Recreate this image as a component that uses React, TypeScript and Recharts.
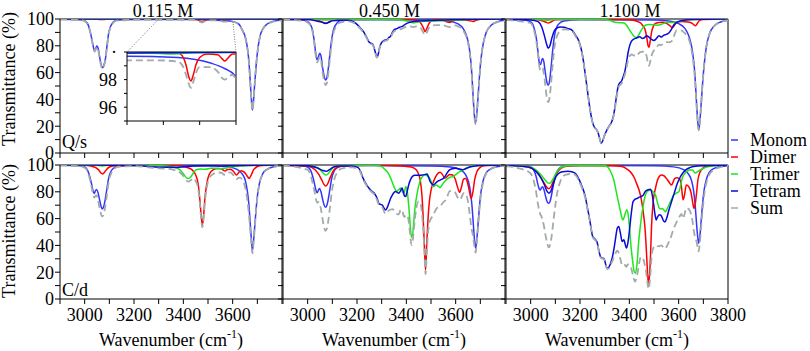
import React from 'react';
import { LineChart, Line, XAxis, YAxis, ReferenceLine } from 'recharts';

type Pt = [number, number];

// ---------- spectra: [wavenumber (cm-1), transmittance (%)] ----------

// Q/s, 0.115 M
const qs115Monom: Pt[] = [[2900,99.8],[2980,99.5],[3000,98.8],[3012,96.5],[3022,91],[3030,84],[3036,78.5],[3040,76.2],[3044,77.5],[3049,79.8],[3054,78.5],[3060,72.5],[3066,66.5],[3072,63.6],[3078,65.5],[3084,70],[3090,79],[3097,89],[3105,94.5],[3115,97.5],[3131,99.2],[3200,99.6],[3300,99.7],[3440,99.6],[3530,99.2],[3565,98.85],[3600,98.2],[3625,96.2],[3640,91.5],[3652,86],[3660,78],[3666,68],[3671,54],[3676,40],[3680,32],[3684,38],[3689,51],[3695,65],[3701,76],[3710,86.5],[3722,92.5],[3740,96.3],[3765,98.3],[3800,99.2]];
const qs115Dimer: Pt[] = [[2900,100],[3040,99.9],[3060,99.7],[3072,99.6],[3085,99.8],[3110,100],[3300,99.95],[3440,99.92],[3455,99.6],[3463,99],[3470,98.2],[3476,97.9],[3482,98.3],[3490,99.1],[3500,99.6],[3520,99.85],[3550,99.8],[3562,99.5],[3569,99.35],[3576,99.5],[3590,99.85],[3620,99.9],[3660,99.85],[3670,99.8],[3690,99.95],[3800,100]];
const qs115Trimer: Pt[] = [[2900,100],[3060,99.95],[3075,99.9],[3090,99.95],[3300,99.95],[3390,99.9],[3420,99.85],[3445,99.88],[3480,99.95],[3800,100]];
const qs115Tetram: Pt[] = [[2900,100],[3200,99.97],[3300,99.93],[3400,99.95],[3600,99.98],[3800,100]];
const qs115Sum: Pt[] = [[2900,99.6],[2980,99.2],[3000,98.4],[3012,96],[3022,90.5],[3030,83.4],[3036,77.9],[3040,75.6],[3044,76.8],[3049,79],[3054,77.7],[3060,71.7],[3066,65.7],[3072,62.8],[3078,64.8],[3084,69.3],[3090,78.4],[3097,88.5],[3105,94],[3115,97],[3131,98.8],[3200,99.3],[3300,99.4],[3380,99.4],[3440,99.3],[3455,98.9],[3463,98.3],[3470,97.7],[3476,97.4],[3482,97.8],[3490,98.5],[3500,98.9],[3530,98.9],[3555,98.4],[3562,98.1],[3569,98],[3576,98.1],[3590,98.35],[3600,98.05],[3625,95.9],[3640,91.2],[3652,85.6],[3660,77.6],[3666,67.6],[3671,53.7],[3676,39.7],[3680,31.7],[3684,37.7],[3689,50.7],[3695,64.7],[3701,75.7],[3710,86.1],[3722,92.2],[3740,96],[3765,98],[3800,98.9]];

// C/d, 0.115 M
const cd115Monom: Pt[] = [[2900,99.8],[2980,99.4],[3000,98.5],[3012,96],[3022,90.5],[3030,84],[3035,80],[3039,78.8],[3043,80.5],[3048,81.8],[3054,79.5],[3060,74.5],[3066,69.5],[3071,67.2],[3077,68.8],[3083,74],[3090,82],[3097,90],[3106,95],[3118,97.8],[3135,99.2],[3200,99.6],[3300,99.6],[3500,99.4],[3580,98.6],[3620,96.5],[3640,93],[3652,88],[3660,80],[3666,70],[3671,57],[3676,44],[3680,36.1],[3684,42],[3689,53],[3695,67],[3701,78],[3710,87.5],[3722,93.5],[3740,96.8],[3765,98.6],[3800,99.4]];
const cd115Dimer: Pt[] = [[2900,100],[3000,99.8],[3020,99.4],[3045,98],[3058,96],[3066,94],[3072,93.3],[3078,94],[3088,96.5],[3100,98.5],[3120,99.5],[3200,99.9],[3380,99.6],[3410,98.5],[3435,96.5],[3450,92.5],[3460,86],[3467,74],[3472,63],[3477,55.2],[3482,62],[3488,76],[3495,86],[3505,93],[3520,96.3],[3540,97.4],[3555,97.2],[3563,96],[3570,95.5],[3577,96.5],[3590,96.8],[3602,95.5],[3610,93.5],[3616,92.5],[3623,94],[3635,95.8],[3648,94.5],[3658,92],[3667,90],[3675,92.5],[3685,96.5],[3700,98.8],[3720,99.7],[3800,100]];
const cd115Trimer: Pt[] = [[2900,100],[3040,99.8],[3072,99.3],[3100,99.8],[3300,99.5],[3360,98.5],[3385,96.5],[3400,93.5],[3412,90.5],[3420,89.9],[3430,91],[3440,94],[3452,96.5],[3470,97],[3490,96.8],[3510,97.5],[3530,97.6],[3550,97.2],[3570,97.5],[3590,98.5],[3620,99.3],[3660,99.6],[3700,99.9],[3800,100]];
const cd115Tetram: Pt[] = [[2900,100],[3200,99.7],[3260,98.8],[3300,98.4],[3340,98.3],[3370,98.2],[3400,98.5],[3440,99.2],[3500,99.5],[3550,99.3],[3600,99.5],[3700,99.9],[3800,100]];
const cd115Sum: Pt[] = [[2900,99.6],[2980,99.1],[3000,98],[3012,95.2],[3022,88.8],[3030,81.8],[3035,77.3],[3039,75.7],[3043,76.8],[3048,77.3],[3054,74.1],[3060,68.4],[3066,63.6],[3071,61.6],[3077,63],[3083,68.6],[3090,77.5],[3097,87],[3106,93.2],[3118,96.8],[3135,98.7],[3200,99.2],[3260,98.2],[3300,97.5],[3340,97.2],[3360,96.4],[3385,94.6],[3400,91.8],[3412,88.5],[3420,87.6],[3430,88.6],[3440,90.2],[3450,88],[3460,83],[3467,71.3],[3472,60.7],[3477,53.5],[3482,59.9],[3488,73.6],[3495,83.3],[3505,90.3],[3520,93.2],[3540,94.4],[3555,94.2],[3563,93],[3570,92.6],[3577,93.6],[3590,94.5],[3602,92.6],[3610,90.4],[3616,89.4],[3623,90.4],[3630,90.6],[3640,88.5],[3648,85],[3652,82.3],[3660,73.2],[3666,63.1],[3671,51.9],[3676,40.9],[3680,34.1],[3684,40.3],[3689,51.6],[3695,66],[3701,77.3],[3710,87.2],[3722,93.3],[3740,96.7],[3765,98.6],[3800,99.4]];

// Q/s, 0.450 M
const qs450Monom: Pt[] = [[2900,99.6],[2980,99.2],[3000,98],[3012,95.5],[3020,91.5],[3027,83],[3033,74],[3038,69.5],[3043,71.5],[3049,74.5],[3054,72.5],[3060,64.5],[3066,58],[3072,54.5],[3077,55.5],[3083,62],[3089,71.5],[3096,83],[3104,91.5],[3115,96],[3130,98.6],[3200,99.5],[3500,99.3],[3570,98.5],[3610,96.3],[3632,92.5],[3648,85],[3657,76],[3664,63],[3670,45],[3675,30],[3680,22.2],[3685,28],[3690,40],[3696,56],[3702,69],[3712,82],[3725,90.5],[3745,95.5],[3770,98],[3800,99]];
const qs450Dimer: Pt[] = [[2900,100],[3020,99.6],[3050,98.5],[3065,97.2],[3073,96.6],[3082,97.4],[3095,98.8],[3120,99.7],[3300,99.9],[3420,99.6],[3450,98.5],[3462,96],[3470,93],[3476,90.6],[3482,92.5],[3490,96],[3500,98.5],[3520,99.4],[3550,99],[3565,97.8],[3575,97.4],[3585,98.2],[3600,99.2],[3640,99.3],[3660,98.6],[3670,98.2],[3680,98.8],[3700,99.8],[3800,100]];
const qs450Trimer: Pt[] = [[2900,100],[3040,99.6],[3073,99.2],[3100,99.7],[3300,99.7],[3370,99.4],[3400,98.5],[3420,97.5],[3430,97],[3440,97.5],[3460,98.2],[3490,98.3],[3520,98.6],[3560,98.8],[3600,99.3],[3650,99.6],[3700,99.9],[3800,100]];
const qs450Tetram: Pt[] = [[2900,99.9],[3000,99.7],[3040,98.4],[3060,97.5],[3073,96.8],[3085,97.5],[3100,98.6],[3130,99],[3160,99],[3185,98],[3200,96],[3215,93],[3230,89.5],[3240,86],[3248,83],[3256,82],[3263,81.5],[3270,78],[3276,74],[3280,71.8],[3285,73],[3292,79],[3300,82.5],[3310,84],[3320,84.5],[3328,86],[3336,87],[3345,90.5],[3352,92.3],[3362,92.8],[3372,93.8],[3383,94.5],[3395,96],[3410,97.3],[3430,98.2],[3460,98.6],[3500,98.9],[3560,99.3],[3620,99.7],[3800,100]];
const qs450Sum: Pt[] = [[2900,99.4],[2980,98.7],[3000,97.4],[3012,94.8],[3020,90.2],[3027,81.5],[3033,72.5],[3038,67.6],[3043,69.2],[3049,71.6],[3054,69.4],[3060,61.1],[3066,54.5],[3072,50.6],[3077,51.7],[3083,58.6],[3089,68.4],[3096,80.4],[3104,89.2],[3115,94.4],[3130,97.2],[3160,98.2],[3185,97.3],[3200,95.4],[3215,92.4],[3230,88.9],[3240,85.4],[3248,82.4],[3256,81.4],[3263,80.9],[3270,77.4],[3276,73.4],[3280,71.2],[3285,72.4],[3292,78.4],[3300,81.9],[3310,83.4],[3320,83.9],[3328,85.3],[3336,86.2],[3345,89.5],[3352,91],[3362,91.5],[3372,92.2],[3383,92.8],[3395,94],[3410,94.6],[3420,94.3],[3430,94],[3440,94.5],[3455,94],[3463,92],[3470,89.5],[3476,88],[3482,89.5],[3490,92.8],[3500,95],[3520,95.5],[3550,95.3],[3565,94.4],[3575,94],[3585,94.8],[3600,95.2],[3610,94.5],[3632,91],[3648,83.8],[3657,74.5],[3664,61.5],[3670,43.8],[3675,29.3],[3680,21.6],[3685,27.5],[3690,39.4],[3696,55.5],[3702,68.5],[3712,81.6],[3725,90.2],[3745,95.3],[3770,97.8],[3800,98.9]];

// C/d, 0.450 M
const cd450Monom: Pt[] = [[2900,99.8],[2980,99.4],[3000,98.4],[3012,96],[3022,90.5],[3030,84],[3035,80.3],[3039,79.3],[3043,81],[3048,82.5],[3054,80],[3060,75],[3066,70.5],[3072,68.4],[3078,70],[3084,75],[3091,83],[3098,90.5],[3107,95.3],[3120,98],[3140,99.3],[3200,99.6],[3500,99.3],[3580,98.5],[3620,96.3],[3640,92.8],[3652,87.5],[3660,80],[3666,70],[3671,57.5],[3676,45],[3681,37.8],[3685,43],[3690,54],[3696,68],[3702,79],[3711,88],[3723,94],[3741,97],[3766,98.7],[3800,99.4]];
const cd450Dimer: Pt[] = [[2900,99.9],[3000,99],[3030,96.5],[3045,93],[3058,88.5],[3066,85.5],[3073,84.3],[3080,85.5],[3090,90],[3102,95],[3120,98.3],[3150,99.5],[3250,99.8],[3380,99.3],[3420,98.5],[3441,96.3],[3450,93],[3457,88],[3463,78],[3468,62],[3473,40],[3478,21.6],[3483,42],[3488,60],[3493,72],[3500,81],[3508,86.5],[3518,91],[3528,93.8],[3537,94.5],[3546,93],[3556,90.3],[3566,91.5],[3576,93],[3588,92.5],[3598,89.5],[3607,84],[3616,79.5],[3624,84],[3632,89.5],[3640,90],[3648,87],[3656,80],[3663,75],[3670,80],[3677,89],[3686,95],[3698,98],[3715,99.4],[3800,100]];
const cd450Trimer: Pt[] = [[2900,100],[3000,99.6],[3040,98],[3058,95],[3068,93],[3075,92.5],[3083,93.5],[3095,96.5],[3110,98.8],[3140,99.7],[3280,99.7],[3300,98.8],[3312,96.8],[3327,93.8],[3337,90],[3347,85.1],[3355,81.8],[3361,80.3],[3368,81.5],[3377,82.8],[3383,80.5],[3388,79],[3393,80.5],[3398,84],[3404,80],[3410,69],[3415,57],[3421,46.1],[3426,49],[3430,57.5],[3435,67.6],[3444,79],[3455,87.6],[3465,91.3],[3475,92.5],[3485,92],[3495,90],[3502,87],[3509,83.8],[3515,84.5],[3522,85],[3529,84.2],[3536,83.1],[3543,84.5],[3549,86.3],[3559,88.5],[3569,90],[3580,91],[3589,91.3],[3600,92.8],[3615,94.8],[3630,96.3],[3645,97.8],[3657,98.8],[3680,99.5],[3720,99.9],[3800,100]];
const cd450Tetram: Pt[] = [[2900,99.9],[3000,99.5],[3040,97.8],[3060,96],[3075,95.3],[3088,96.5],[3105,98.5],[3130,99.2],[3180,99.3],[3205,98],[3215,95],[3225,90],[3235,86.5],[3248,82.8],[3261,80.3],[3268,79.5],[3275,77.6],[3282,75],[3288,71.4],[3295,70.6],[3302,70.2],[3309,68],[3316,66.4],[3322,68],[3329,71.4],[3336,75],[3343,77.6],[3350,79.5],[3356,80.3],[3363,79.5],[3370,79],[3377,81],[3383,82.8],[3388,80],[3392,77],[3397,76.4],[3403,80],[3410,85.5],[3417,89.1],[3425,91.5],[3435,92.3],[3450,92.3],[3465,92.5],[3477,93],[3484,93.3],[3490,91],[3497,87.5],[3503,86],[3509,85.1],[3516,86],[3525,87.6],[3535,88.5],[3545,89.5],[3552,90.3],[3562,93],[3572,95.8],[3583,97],[3600,97.5],[3615,97],[3628,96.5],[3640,97.2],[3655,98.3],[3680,99.3],[3720,99.8],[3800,100]];
const cd450Sum: Pt[] = [[2900,99.6],[3000,96.5],[3012,92.2],[3022,85.2],[3030,78.3],[3035,73.5],[3039,71.8],[3043,72.4],[3048,71.6],[3054,66.8],[3060,60.2],[3066,54],[3072,50.9],[3078,52.6],[3084,58.9],[3091,69.4],[3098,80.1],[3107,88.6],[3120,94.6],[3140,97.5],[3180,98.3],[3205,97.1],[3215,94.2],[3225,89.2],[3235,85.8],[3248,82.1],[3261,79.6],[3275,76.9],[3288,70.6],[3302,68.6],[3316,63.6],[3329,66],[3343,67],[3356,64.7],[3363,63.4],[3370,63.2],[3377,66.6],[3383,66.3],[3388,62.8],[3392,61.2],[3397,62.5],[3404,62.5],[3410,57.5],[3415,49],[3421,40.3],[3426,43.5],[3430,51],[3435,60],[3441,68.2],[3450,72.8],[3457,71.5],[3463,65],[3468,53],[3473,36],[3478,18.6],[3483,35],[3488,49.5],[3493,57],[3500,60],[3509,62.5],[3522,67.5],[3536,69],[3549,72],[3562,74.5],[3576,80.5],[3589,80.5],[3600,79],[3607,76],[3616,74],[3624,76],[3632,79],[3640,78.5],[3648,74.5],[3656,64.7],[3663,54.2],[3670,47.2],[3676,39.5],[3681,34.5],[3685,40.7],[3690,51.8],[3696,66],[3702,77.2],[3711,86.7],[3723,93.3],[3741,96.7],[3766,98.6],[3800,99.4]];

// Q/s, 1.100 M
const qs1100Monom: Pt[] = [[2900,99.5],[2980,99],[3000,97.8],[3010,95.5],[3017,91],[3023,85.6],[3030,75],[3036,66.5],[3040,66],[3044,68.5],[3048,70.6],[3053,68.5],[3059,60.5],[3065,53.5],[3071,50.7],[3076,53],[3082,62.5],[3089,76],[3097,88],[3106,94],[3117,96.8],[3135,98.5],[3200,99.4],[3500,99.2],[3560,98.5],[3600,96.5],[3625,93],[3642,87],[3653,79],[3660,70],[3666,58],[3671,42],[3676,27],[3681,17.2],[3686,24],[3691,36],[3697,52],[3703,65],[3712,79],[3725,89],[3745,95],[3770,97.8],[3800,99]];
const qs1100Dimer: Pt[] = [[2900,100],[3030,99.5],[3060,97.8],[3071,97],[3082,97.8],[3100,99.4],[3200,99.9],[3400,99.5],[3442,97.5],[3455,95],[3463,92.5],[3470,87],[3476,80.1],[3480,79],[3485,84],[3490,90],[3497,94.5],[3503,96.3],[3520,97.3],[3537,97.5],[3550,96.8],[3564,95],[3575,93.5],[3584,95.5],[3591,97.5],[3610,98.2],[3638,97.8],[3655,96.8],[3663,95.5],[3669,95],[3675,96.5],[3685,99],[3700,99.7],[3800,100]];
const qs1100Trimer: Pt[] = [[2900,100],[3040,99.6],[3071,99],[3100,99.7],[3300,99.7],[3319,99],[3335,98],[3350,97.3],[3365,97.2],[3379,97],[3390,95],[3400,92],[3407,90],[3413,88.5],[3420,87],[3428,86.1],[3436,87.5],[3445,90.5],[3453,93],[3467,95.5],[3480,95.9],[3494,95.8],[3508,95.4],[3521,95.5],[3535,96.4],[3548,97.3],[3562,97.5],[3575,97.4],[3590,97.8],[3605,98.4],[3625,99.1],[3650,99.6],[3700,99.9],[3800,100]];
const qs1100Tetram: Pt[] = [[2900,99.8],[3000,99.3],[3030,98],[3045,94],[3055,88],[3065,81],[3071,78.1],[3078,80],[3087,86.5],[3097,91.5],[3108,93.5],[3120,94],[3135,93.8],[3150,93],[3165,92],[3175,90],[3183,87.5],[3192,85],[3200,81],[3208,75],[3216,66],[3224,55],[3232,44],[3240,33.5],[3247,26],[3254,21],[3260,18.8],[3267,17.5],[3274,14.7],[3280,10.5],[3286,7.2],[3292,9],[3298,12.5],[3305,15.5],[3313,18.5],[3321,20.9],[3329,23.5],[3336,28],[3343,36],[3350,45],[3356,50.5],[3362,52.5],[3368,53.5],[3375,57],[3382,61],[3388,67],[3395,75],[3402,80.5],[3409,83.5],[3418,85],[3429,85.8],[3442,86.8],[3452,85.5],[3461,86],[3470,87.5],[3480,86.5],[3490,84.8],[3500,84],[3510,85.5],[3520,87.5],[3530,86.5],[3540,88],[3550,88.5],[3560,89.5],[3570,92],[3580,95.5],[3592,97.5],[3610,98.7],[3640,99.4],[3700,99.8],[3800,100]];
const qs1100Sum: Pt[] = [[2900,99.3],[3000,96.9],[3010,93.8],[3017,89],[3023,83.2],[3030,73],[3036,63.5],[3040,61.8],[3044,63.3],[3048,63.6],[3053,59.8],[3059,51.1],[3065,41.8],[3071,38],[3076,40.6],[3082,50.4],[3089,65.5],[3097,79.6],[3106,87],[3117,90.6],[3135,92.2],[3150,92],[3165,91.2],[3175,89.3],[3183,86.8],[3192,84.4],[3200,80.4],[3208,74.5],[3216,65.5],[3224,54.6],[3232,43.7],[3240,33.3],[3247,25.8],[3254,20.8],[3260,18.6],[3267,17.4],[3274,14.6],[3280,10.4],[3286,7.1],[3292,8.9],[3298,12.4],[3305,15.4],[3313,18.3],[3321,20.6],[3329,23],[3336,27.3],[3343,34.8],[3350,43.5],[3356,48.8],[3362,50.7],[3368,51.7],[3375,55],[3382,58.5],[3388,63.2],[3395,69.3],[3402,72.6],[3409,73.5],[3418,72.9],[3429,72.2],[3442,75.1],[3452,75.5],[3461,75.8],[3470,72.3],[3476,66.4],[3480,65.1],[3485,68.5],[3490,72.6],[3497,75.8],[3503,77.1],[3510,78.5],[3520,80.9],[3530,80.5],[3540,82.3],[3550,82.8],[3560,82.6],[3570,83.2],[3575,84.3],[3580,86.8],[3592,91.4],[3600,91.2],[3610,91.5],[3625,89.4],[3640,85.6],[3653,76],[3660,66.6],[3666,54.8],[3671,39.8],[3676,25.9],[3681,16.9],[3686,23.7],[3691,35.8],[3697,51.8],[3703,64.8],[3712,78.8],[3725,88.9],[3745,94.9],[3770,97.7],[3800,99]];

// C/d, 1.100 M
const cd1100Monom: Pt[] = [[2900,99.8],[2980,99.4],[3000,98.5],[3012,96.3],[3022,91.5],[3030,85],[3035,82],[3039,81.3],[3043,82.8],[3048,83.8],[3054,81.5],[3060,77],[3066,73],[3073,71.4],[3079,73],[3085,78],[3092,85],[3099,91.5],[3108,95.5],[3120,98],[3140,99.3],[3200,99.6],[3500,99.4],[3580,98.6],[3620,96.5],[3640,93.2],[3652,88.5],[3660,81.5],[3666,72],[3671,60],[3676,48.5],[3681,41.6],[3686,47],[3691,58],[3697,71],[3703,81],[3712,89],[3724,94.5],[3742,97.3],[3766,98.8],[3800,99.5]];
const cd1100Dimer: Pt[] = [[2900,99.8],[2990,98.5],[3020,95.5],[3040,91],[3055,86.5],[3065,83.5],[3073,82.3],[3081,83.5],[3092,88],[3105,93.5],[3120,97],[3145,99],[3200,99.7],[3330,99.5],[3370,98.8],[3390,97],[3409,93.8],[3420,90.5],[3429,86.3],[3440,81],[3449,74],[3457,64],[3463,54],[3468,40],[3473,22],[3478,10.5],[3482,18],[3486,33],[3490,54],[3496,71.4],[3506,82.6],[3517,90],[3530,92.5],[3540,92],[3550,90],[3560,87.5],[3571,85],[3578,87.5],[3584,90],[3594,90.5],[3604,89.5],[3611,84],[3618,74],[3624,78],[3631,85],[3641,83.8],[3650,79.5],[3657,72],[3662,67.6],[3668,72],[3673,80],[3678,88.8],[3685,94],[3692,96.3],[3705,98.8],[3720,99.7],[3800,100]];
const cd1100Trimer: Pt[] = [[2900,99.9],[2990,98.8],[3020,96.5],[3040,93],[3058,89],[3068,86.8],[3075,86.3],[3083,87.2],[3095,91],[3108,95.5],[3125,98.3],[3150,99.5],[3300,99.5],[3310,98.8],[3320,96.5],[3328,93.5],[3337,88.8],[3345,82],[3352,75.5],[3357,71.4],[3364,65.5],[3370,60.5],[3374,59],[3379,61],[3384,64.1],[3390,66.6],[3396,62],[3402,50],[3408,37],[3414,27.5],[3419,21],[3425,19.2],[3431,26],[3438,42.8],[3445,55],[3452,65.1],[3459,72.5],[3465,77.6],[3476,80.8],[3486,81.3],[3496,80],[3506,77.6],[3514,72],[3522,67.6],[3528,67.2],[3533,67.6],[3540,66.5],[3546,65.1],[3553,67],[3560,70],[3570,74],[3580,77.6],[3590,79],[3601,80],[3608,85],[3614,89.9],[3624,93.5],[3634,95.3],[3645,96.3],[3655,96.3],[3662,95],[3668,94],[3675,94.8],[3688,96.3],[3705,98],[3722,98.8],[3750,99.6],[3800,100]];
const cd1100Tetram: Pt[] = [[2900,99.6],[2990,98.5],[3020,95.5],[3040,91],[3055,85.5],[3066,80.5],[3074,79],[3082,80.5],[3092,86],[3103,91.5],[3115,94],[3130,95],[3150,95.3],[3170,94.8],[3185,93],[3198,88.5],[3208,84],[3216,80],[3222,76],[3230,68],[3237,61.6],[3244,54],[3250,47.5],[3256,45.5],[3263,44.2],[3270,42],[3276,36.5],[3283,31.7],[3290,30.5],[3297,30.2],[3304,26],[3310,22.9],[3316,23.5],[3324,26.7],[3331,31],[3337,36.6],[3344,45],[3351,52.8],[3357,54.1],[3364,49],[3371,42.9],[3378,44.2],[3383,41],[3388,38],[3394,41.7],[3401,52],[3408,64],[3415,72.6],[3423,74.5],[3432,75.1],[3440,76],[3447,76.4],[3456,77.5],[3466,80.6],[3476,81.5],[3486,81.9],[3493,77.5],[3499,70],[3505,62],[3509,59],[3515,61.5],[3522,62.9],[3530,62],[3538,58.5],[3544,57.5],[3551,60],[3560,66],[3570,72],[3582,79],[3594,86],[3605,90.5],[3617,94],[3630,96.5],[3645,98],[3660,98.8],[3700,99.5],[3800,99.9]];
const cd1100Sum: Pt[] = [[2900,99.1],[2990,95.1],[3000,93.7],[3012,88.5],[3022,80],[3030,70.4],[3035,65.7],[3039,63.2],[3043,61.8],[3048,59.1],[3054,54.3],[3060,47.8],[3066,42.5],[3073,38.5],[3079,40.5],[3085,47],[3092,57.8],[3099,68.6],[3108,79.6],[3120,87.6],[3140,92.6],[3170,93.4],[3185,91.8],[3198,87.3],[3208,82.9],[3216,79],[3222,75],[3230,67.1],[3237,60.8],[3244,53.3],[3250,46.9],[3256,44.9],[3263,43.6],[3270,41.5],[3276,36],[3283,31.3],[3290,30.1],[3297,29.8],[3304,25.5],[3310,22.4],[3316,22.7],[3324,25.3],[3331,28.3],[3337,31],[3344,34],[3351,36],[3357,34.5],[3364,29.5],[3371,25.2],[3378,26],[3383,25.2],[3388,24],[3394,25.8],[3401,25.8],[3408,22.8],[3415,17.6],[3423,12.9],[3432,18.1],[3440,27],[3447,31.5],[3456,30],[3463,25],[3468,20.5],[3473,13],[3478,7.5],[3482,11.5],[3486,20.5],[3490,31],[3496,37.5],[3502,39],[3509,38.2],[3515,39.3],[3522,39.5],[3530,40],[3538,38.5],[3544,37.5],[3551,39],[3560,42.5],[3570,47],[3578,51.5],[3587,55.5],[3597,59.5],[3605,62],[3611,63.5],[3618,60],[3624,63.5],[3631,68],[3641,67],[3650,63.5],[3657,57],[3662,50],[3668,45.5],[3673,42.5],[3678,37.5],[3681,35.5],[3686,42],[3692,56],[3697,66.3],[3705,79.8],[3712,86.4],[3724,92.8],[3742,96.2],[3766,98.2],[3800,99.3]];

// ---------- labels ----------
const concentrations = ['0.115 M', '0.450 M', '1.100 M'];
const solvents = ['Q/s', 'C/d'];
const seriesNames = ['Monom', 'Dimer', 'Trimer', 'Tetram', 'Sum'];
const X_TICKS = [2900, 3000, 3100, 3200, 3300, 3400, 3500, 3600, 3700, 3800];
const Y_TICKS = [0, 10, 20, 30, 40, 50, 60, 70, 80, 90, 100];
const X_LABELS_INNER = [3000, 3200, 3400, 3600];
const X_LABELS_LAST = [3000, 3200, 3400, 3600, 3800];
const INSET_X_TICKS = [3300, 3400, 3500, 3600];
const INSET_Y_TICKS = [95, 96, 97, 98, 99, 100];

// ---------- styling / layout ----------
const FONT = '"Liberation Serif", "Times New Roman", Times, serif';
const STYLES = [
  { color: '#3434ff', dash: undefined, width: 1.5 },
  { color: '#ff0000', dash: undefined, width: 1.5 },
  { color: '#1ee61e', dash: undefined, width: 1.5 },
  { color: '#0a0ad8', dash: undefined, width: 1.5 },
  { color: '#a2aaaa', dash: '7 4', width: 1.8 },
];

const PLOT_W = 222;
const PLOT_H = 134;
const COL_X = [60, 283, 506];
const ROW_Y = [19, 165];
const PAD_L = 48;
const PAD_R = 24;
const PAD_T = 12;
const PAD_B = 36;
const INSET = { x: 127, y: 52, w: 109, h: 69 };

type Row = { w: number; t: number };
const rows = (pts: Pt[]): Row[] => pts.map(([w, t]) => ({ w, t }));

const panels: Row[][][][] = [
  [
    [qs115Monom, qs115Dimer, qs115Trimer, qs115Tetram, qs115Sum].map(rows),
    [qs450Monom, qs450Dimer, qs450Trimer, qs450Tetram, qs450Sum].map(rows),
    [qs1100Monom, qs1100Dimer, qs1100Trimer, qs1100Tetram, qs1100Sum].map(rows),
  ],
  [
    [cd115Monom, cd115Dimer, cd115Trimer, cd115Tetram, cd115Sum].map(rows),
    [cd450Monom, cd450Dimer, cd450Trimer, cd450Tetram, cd450Sum].map(rows),
    [cd1100Monom, cd1100Dimer, cd1100Trimer, cd1100Tetram, cd1100Sum].map(rows),
  ],
];

const textStyle = { fontFamily: FONT, fontSize: 18, fill: '#000' };

function XTick(props: any) {
  const { x, y, payload, labels } = props;
  if (!labels || !labels.includes(payload.value)) return <g />;
  return (
    <text x={x} y={y} dy="0.71em" textAnchor="middle" {...textStyle}>
      {payload.value}
    </text>
  );
}

function YTick(props: any) {
  const { x, y, payload, show } = props;
  if (!show || payload.value % 20 !== 0) return <g />;
  return (
    <text x={x} y={y} dy="0.35em" textAnchor="end" {...textStyle}>
      {payload.value}
    </text>
  );
}

function InsetYTick(props: any) {
  const { x, y, payload } = props;
  const v = payload.value;
  const label = v === 96 || v === 98 ? String(v) : v === 100 ? '·' : '';
  if (!label) return <g />;
  return (
    <text x={x} y={y} dy="0.35em" textAnchor="end" {...textStyle}>
      {label}
    </text>
  );
}

function seriesLines(data: Row[][], prefix: string) {
  return data.map((d, i) => (
    <Line
      key={`${prefix}-${seriesNames[i]}`}
      data={d}
      dataKey="t"
      type="monotone"
      stroke={STYLES[i].color}
      strokeWidth={STYLES[i].width}
      strokeDasharray={STYLES[i].dash}
      dot={false}
      activeDot={false}
      isAnimationActive={false}
    />
  ));
}

function Panel({ row, col }: { row: number; col: number }) {
  const xLabels = row === 1 ? (col === 2 ? X_LABELS_LAST : X_LABELS_INNER) : [];
  return (
    <div style={{ position: 'absolute', left: COL_X[col] - PAD_L, top: ROW_Y[row] - PAD_T }}>
      <LineChart
        width={PAD_L + PLOT_W + PAD_R}
        height={PAD_T + PLOT_H + PAD_B}
        margin={{ top: PAD_T, right: PAD_R, bottom: 0, left: 0 }}
      >
        <XAxis
          dataKey="w"
          type="number"
          domain={[2900, 3800]}
          ticks={X_TICKS}
          interval={0}
          allowDataOverflow
          height={PAD_B}
          tickSize={5}
          tickMargin={4}
          stroke="#000"
          tick={<XTick labels={xLabels} />}
        />
        <YAxis
          type="number"
          domain={[0, 100]}
          ticks={Y_TICKS}
          interval={0}
          allowDataOverflow
          width={PAD_L}
          tickSize={5}
          tickMargin={1}
          stroke="#000"
          tick={<YTick show={col === 0} />}
        />
        <ReferenceLine y={100} stroke="#000" />
        <ReferenceLine x={3800} stroke="#000" />
        {seriesLines(panels[row][col], `p${row}${col}`)}
      </LineChart>
    </div>
  );
}

function Inset() {
  const L = 34;
  return (
    <>
      <div
        style={{
          position: 'absolute',
          left: INSET.x,
          top: INSET.y,
          width: INSET.w,
          height: INSET.h,
          background: '#fff',
        }}
      />
      <div style={{ position: 'absolute', left: INSET.x - L, top: INSET.y - 10 }}>
        <LineChart width={L + INSET.w + 2} height={10 + INSET.h + 8} margin={{ top: 10, right: 2, bottom: 0, left: 0 }}>
          <XAxis
            dataKey="w"
            type="number"
            domain={[3300, 3600]}
            ticks={INSET_X_TICKS}
            interval={0}
            allowDataOverflow
            height={8}
            tickSize={4}
            stroke="#000"
            tick={() => <g />}
          />
          <YAxis
            type="number"
            domain={[95, 100]}
            ticks={INSET_Y_TICKS}
            interval={0}
            allowDataOverflow
            width={L}
            tickSize={3}
            tickMargin={7}
            stroke="#000"
            tick={<InsetYTick />}
          />
          <ReferenceLine y={100} stroke="#000" />
          <ReferenceLine x={3600} stroke="#000" />
          {seriesLines(panels[0][0], 'inset')}
        </LineChart>
      </div>
    </>
  );
}

const xPix = (col: number, w: number) => COL_X[col] + ((w - 2900) / 900) * PLOT_W;

function Overlay() {
  const titleX = [163, 389.5, 630];
  const legendY = [140, 157, 174, 191, 208];
  return (
    <svg
      width={810}
      height={351}
      style={{ position: 'absolute', left: 0, top: 0, pointerEvents: 'none' }}
    >
      {concentrations.map((c, i) => (
        <text key={c} x={titleX[i]} y={16.5} textAnchor="middle" {...textStyle}>
          {c}
        </text>
      ))}
      {[79, 231].map((cy, i) => (
        <text
          key={`yl${i}`}
          transform={`translate(15,${cy}) rotate(-90)`}
          textAnchor="middle"
          {...textStyle}
        >
          Transmittance (%)
        </text>
      ))}
      {[0, 1, 2].map((c) => (
        <text key={`xl${c}`} x={COL_X[c] + PLOT_W / 2} y={346} textAnchor="middle" {...textStyle}>
          Wavenumber (cm
          <tspan dy={-8} fontSize={12}>-1</tspan>
          <tspan dy={8}>)</tspan>
        </text>
      ))}
      {solvents.map((s, r) => (
        <text key={s} x={62} y={ROW_Y[r] + PLOT_H - (r === 0 ? 5 : 3)} {...textStyle}>
          {s}
        </text>
      ))}
      <line x1={xPix(0, 3300)} y1={ROW_Y[0]} x2={INSET.x} y2={INSET.y} stroke="#555" strokeWidth={0.8} strokeDasharray="1 1.5" />
      <line x1={xPix(0, 3600)} y1={ROW_Y[0]} x2={INSET.x + INSET.w} y2={INSET.y} stroke="#555" strokeWidth={0.8} strokeDasharray="1 1.5" />
      {seriesNames.map((n, i) => (
        <g key={n}>
          <line x1={731} x2={738} y1={legendY[i]} y2={legendY[i]} stroke={STYLES[i].color} strokeWidth={1.5} />
          <text x={750} y={legendY[i] + 6} {...textStyle}>
            {n}
          </text>
        </g>
      ))}
    </svg>
  );
}

export default function App() {
  return (
    <div
      style={{
        position: 'absolute',
        left: 0,
        top: 0,
        width: 810,
        height: 351,
        background: '#fff',
        fontFamily: FONT,
      }}
    >
      {[0, 1].map((r) => [0, 1, 2].map((c) => <Panel key={`${r}${c}`} row={r} col={c} />))}
      <Inset />
      <Overlay />
    </div>
  );
}
